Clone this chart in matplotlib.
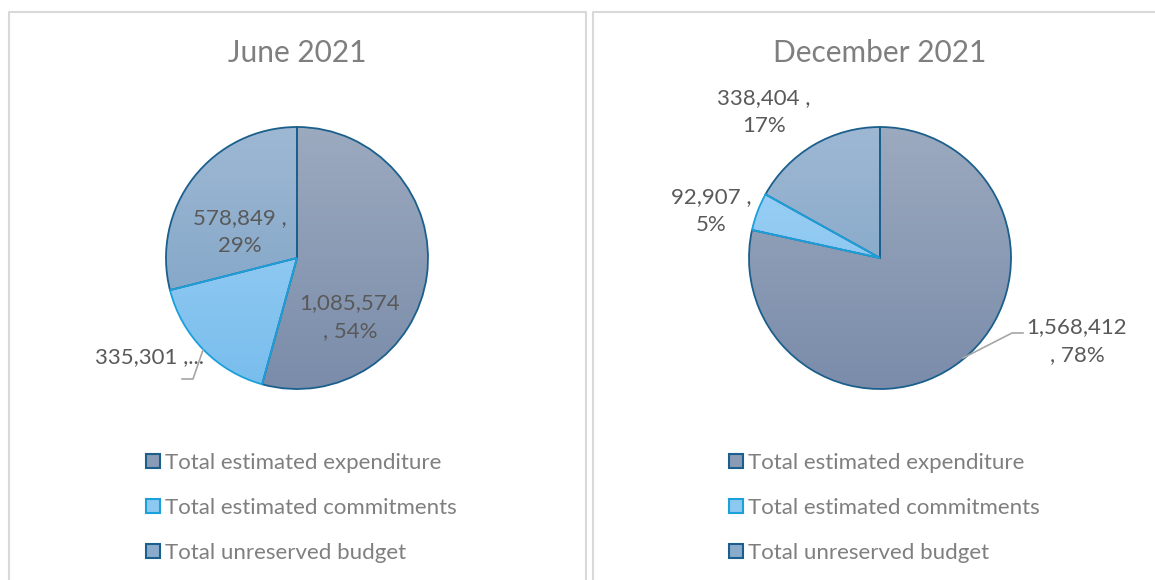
import numpy as np
import matplotlib
matplotlib.use("Agg")
import matplotlib.pyplot as plt
from matplotlib.colors import LinearSegmentedColormap
from matplotlib.patches import Patch
from matplotlib.lines import Line2D

# ---- data ----
categories = ["Total estimated expenditure", "Total estimated commitments", "Total unreserved budget"]
titles = ["June 2021", "December 2021"]
june_values = [1085574, 335301, 578849]
dec_values = [1568412, 92907, 338404]
june_labels = ["1,085,574\n, 54%", "335,301 ,...", "578,849 ,\n29%"]
dec_labels = ["1,568,412\n, 78%", "92,907 ,\n5%", "338,404 ,\n17%"]

# ---- styles ----
plt.rcParams['font.family'] = ['Lato', 'DejaVu Sans']
W, H = 1155, 580
fig = plt.figure(figsize=(W / 100, H / 100), dpi=100)

grad_top = ["#9CAABF", "#A3D3F6", "#9EB8D3"]
grad_bot = ["#7A8CAA", "#78BDED", "#789FC4"]
mid_col = ["#8A9BB5", "#8DC8F1", "#8AABCB"]
edge_col = ["#1B5F8C", "#1AA0DA", "#1B5F8C"]
label_col = "#595959"
legend_col = "#7F7F7F"
R = 131.0  # pie radius in px


def fx(px):
    return px / W


def fy(py):
    return 1 - py / H


# panel borders
border = "#D9D9D9"
for (x0, x1) in [(9, 586), (593, 1160)]:
    fig.add_artist(Line2D([fx(x0), fx(x0), fx(x1), fx(x1)], [fy(590), fy(12), fy(12), fy(590)],
                          transform=fig.transFigure, color=border, lw=1.5))


def draw_pie(cx, cy, values, labels, label_pos, title):
    half = 1.5 * R
    ax = fig.add_axes([fx(cx - half), fy(cy + half), 2 * half / W, 2 * half / H])
    ax.axis('off')
    wedges, _ = ax.pie(values, startangle=90, counterclock=False, radius=1,
                       wedgeprops=dict(linewidth=1.3, zorder=3))
    grad = np.linspace(1, 0, 256).reshape(-1, 1)
    for i, w in enumerate(wedges):
        cmap = LinearSegmentedColormap.from_list("g%d" % i, [grad_bot[i], grad_top[i]])
        im = ax.imshow(grad, extent=[-1, 1, -1, 1], cmap=cmap, vmin=0, vmax=1,
                       aspect='auto', zorder=1, interpolation='bilinear')
        im.set_clip_path(w)
        w.set_facecolor('none')
        w.set_edgecolor(edge_col[i])
    ax.set_xlim(-1.5, 1.5)
    ax.set_ylim(-1.5, 1.5)
    ax.set_aspect('equal')
    wedges[1].set_zorder(4)
    for i, (lx, ly, ha) in enumerate(label_pos):
        ax.text((lx - cx) / R, (cy - ly) / R, labels[i], ha=ha, va='center',
                multialignment='center', fontsize=16, color=label_col, linespacing=1.5, zorder=5)
    fig.text(fx(cx), fy(53), title, ha='center', va='center', fontsize=21.5, color="#7F7F7F")
    return ax


ax1 = draw_pie(297, 258, june_values, june_labels,
               [(350, 317, 'center'), (204, 357, 'right'), (240, 232, 'center')], titles[0])
ax1.plot([(182 - 297) / R, (193 - 297) / R, (203 - 297) / R],
         [(258 - 379) / R, (258 - 379) / R, (258 - 350) / R], color="#A6A6A6", lw=1.2, zorder=5)

ax2 = draw_pie(880, 258, dec_values, dec_labels,
               [(1077, 341, 'center'), (711, 211, 'center'), (764, 112, 'center')], titles[1])
ax2.plot([(963 - 880) / R, (1012 - 880) / R, (1023 - 880) / R],
         [(258 - 358) / R, (258 - 333) / R, (258 - 333) / R], color="#A6A6A6", lw=1.2, zorder=5)

handles = [Patch(facecolor=mid_col[i], edgecolor=edge_col[i], linewidth=1.5) for i in range(3)]
for lx in [146, 729]:
    leg = fig.legend(handles, categories, loc='upper left', bbox_to_anchor=(fx(lx), fy(453)),
                     frameon=False, fontsize=16, borderpad=0, borderaxespad=0,
                     handlelength=0.62, handleheight=0.62, handletextpad=0.25, labelspacing=1.12)
    for t in leg.get_texts():
        t.set_color(legend_col)

fig.savefig("out.png", dpi=100)
